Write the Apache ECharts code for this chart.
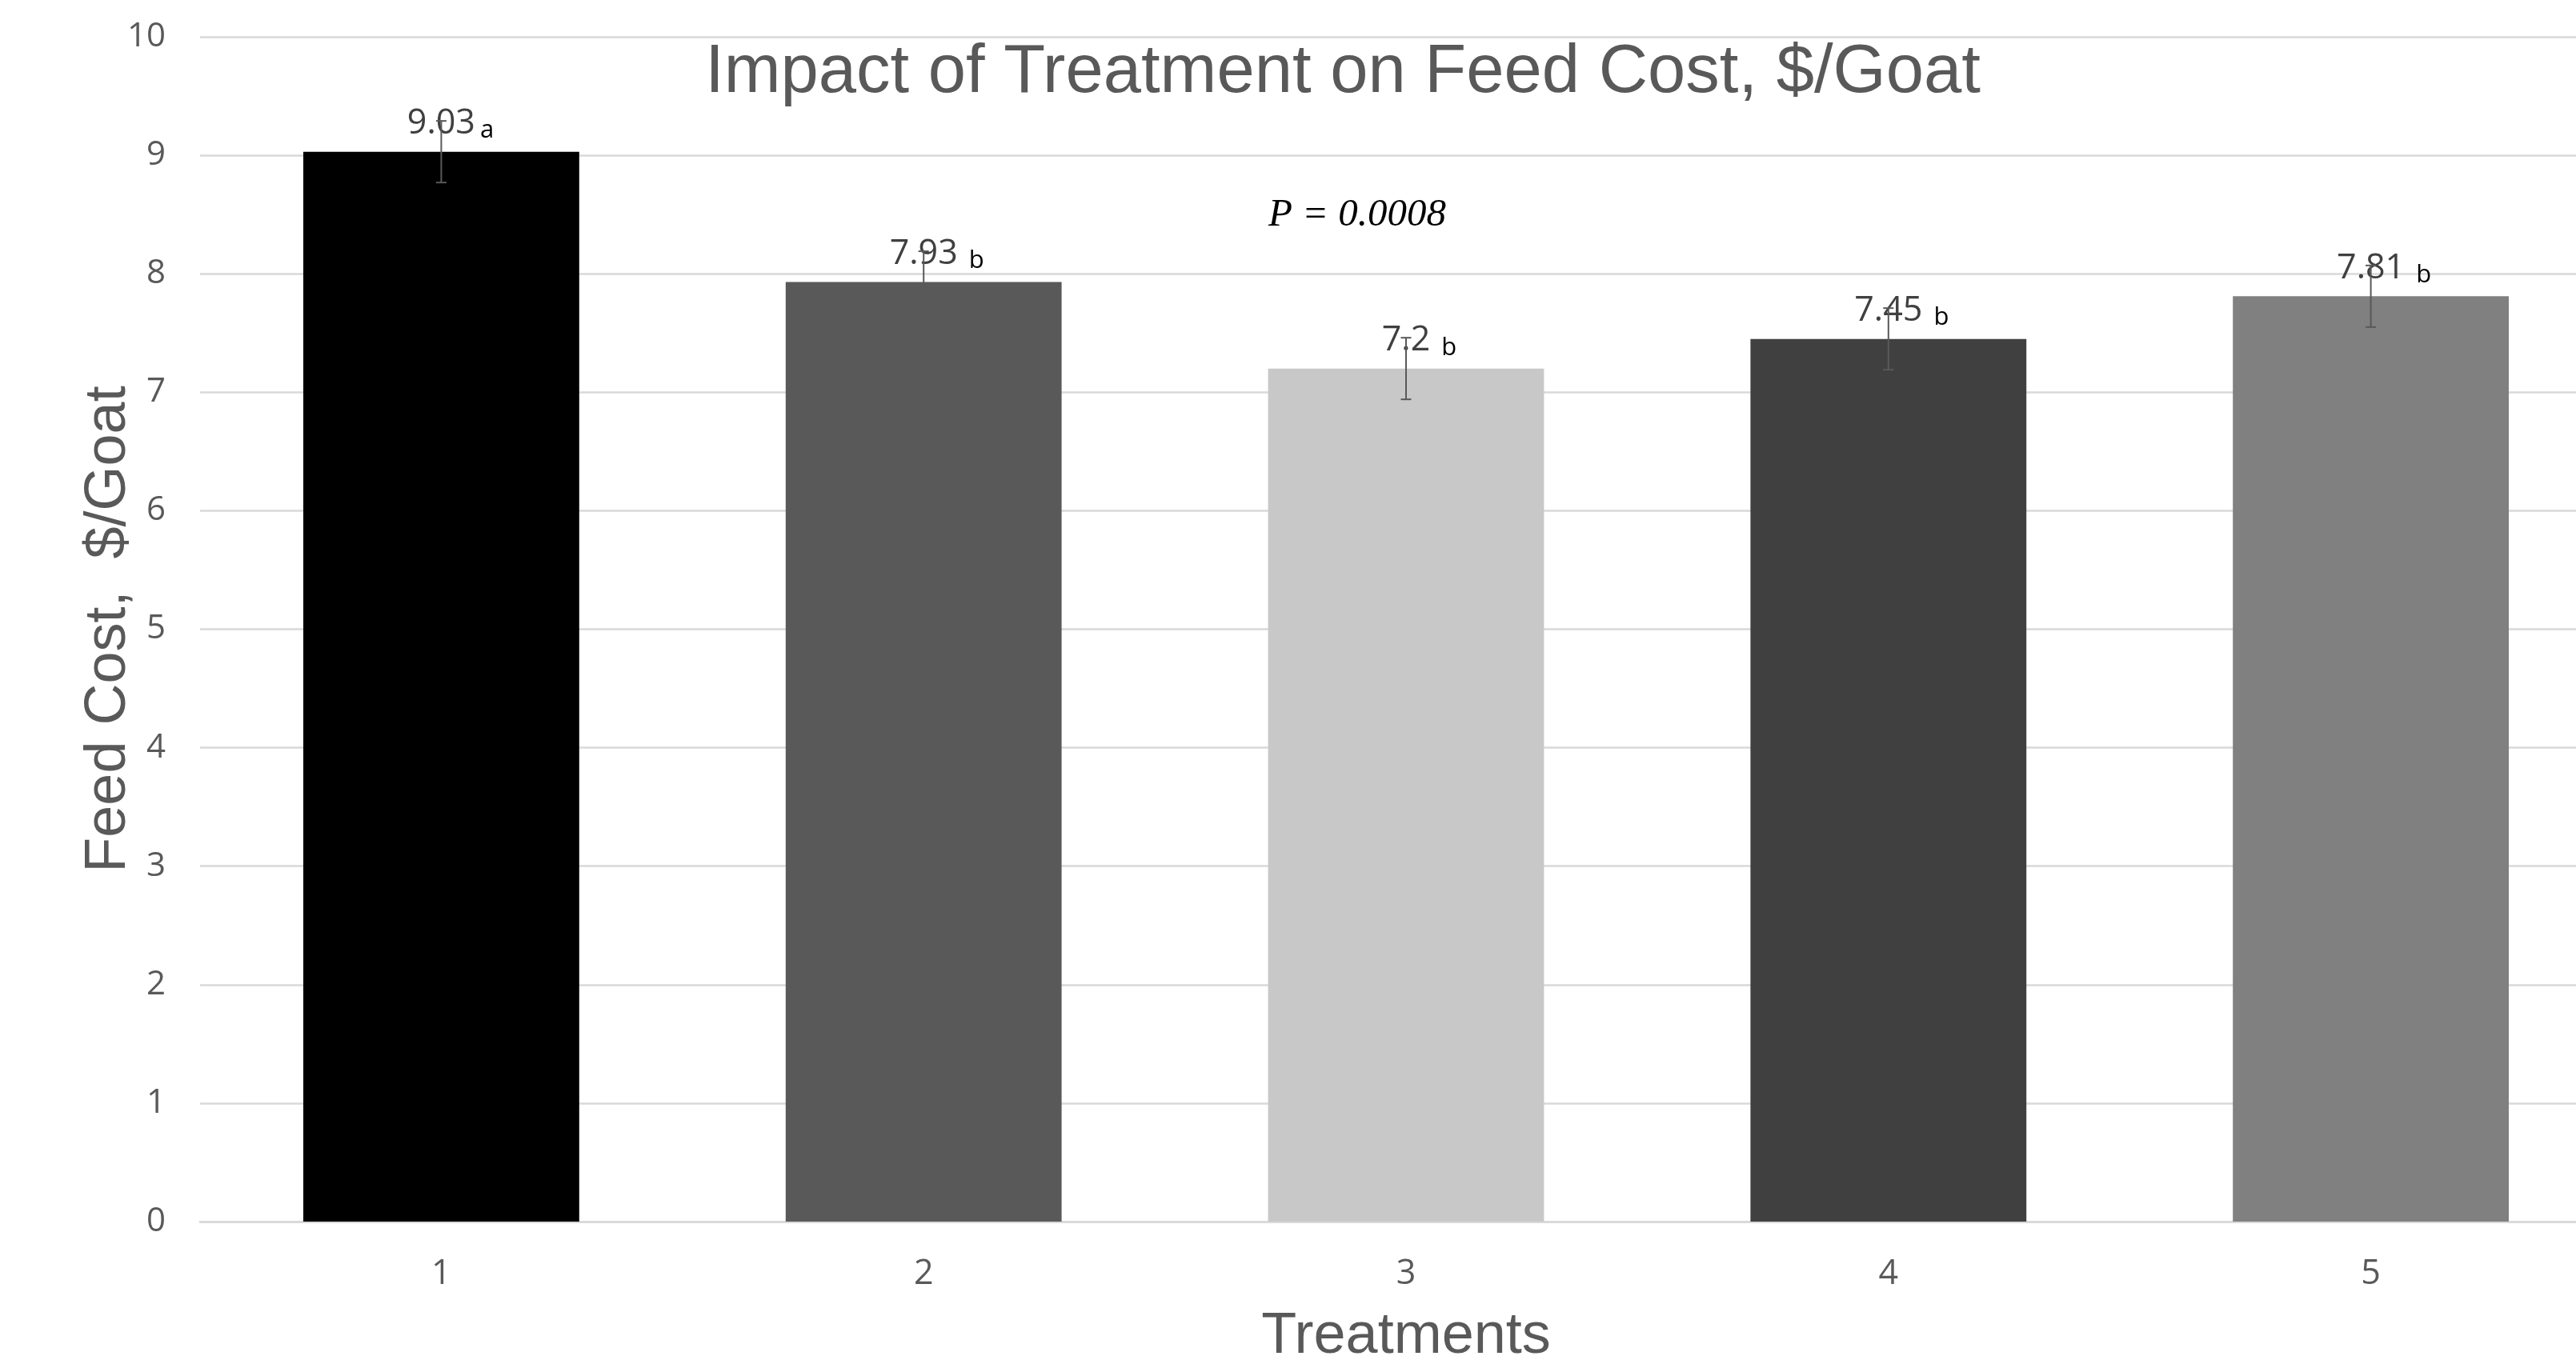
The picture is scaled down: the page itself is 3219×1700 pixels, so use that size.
<!DOCTYPE html>
<html>
<head>
<meta charset="utf-8">
<script src="https://cdn.jsdelivr.net/npm/echarts@6/dist/echarts.min.js"></script>
<style>
html,body{margin:0;padding:0;background:#fff;}
#chart{width:3219px;height:1700px;}
</style>
</head>
<body>
<div id="chart"></div>
<script>
// ---- data ----
const categories = ['1', '2', '3', '4', '5'];
const feedCost = [9.03, 7.93, 7.2, 7.45, 7.81];
const stdErr = [0.26, 0.26, 0.26, 0.26, 0.26];
const sigLetters = ['a', ' b', ' b', ' b', ' b'];
const yTicks = { min: 0, max: 10, interval: 1 };
const titleText = 'Impact of Treatment on Feed Cost, $/Goat';
const pValueText = 'P = 0.0008';
const xName = 'Treatments';
const yName = 'Feed Cost,  $/Goat';

// ---- styles ----
const barColors = ['#000000', '#595959', '#c8c8c8', '#404040', '#808080'];
const axisTextColor = '#595959';
const labelFont = '"Open Sans", "Liberation Sans", sans-serif';
const titleFont = '"Liberation Sans", Arial, sans-serif';
const valueFontSize = 43;
const letterFontSize = 31;

const measureCtx = document.createElement('canvas').getContext('2d');
function textWidth(str, size, family) {
  measureCtx.font = size + 'px ' + family;
  return measureCtx.measureText(str).width;
}

const chart = echarts.init(document.getElementById('chart'), null, { renderer: 'canvas' });

const option = {
  animation: false,
  backgroundColor: '#ffffff',
  grid: { left: 250, right: -45, top: 46, bottom: 173, containLabel: false, outerBoundsMode: 'none' },
  graphic: [
    {
      type: 'text', x: 1678, y: 92, silent: true,
      style: { text: titleText, fontSize: 85, fontFamily: titleFont, fill: '#595959', align: 'center', verticalAlign: 'middle' }
    },
    {
      type: 'text', x: 1696, y: 269, silent: true,
      style: { text: pValueText, fontSize: 49, fontStyle: 'italic', fontFamily: '"Liberation Serif", "Times New Roman", serif', fill: '#000000', align: 'center', verticalAlign: 'middle' }
    }
  ],
  xAxis: {
    type: 'category',
    data: categories,
    axisTick: { show: false },
    axisLine: { show: true, lineStyle: { color: '#d9d9d9', width: 3 } },
    axisLabel: { fontSize: 43, color: axisTextColor, fontFamily: labelFont, margin: 44 },
    name: xName,
    nameLocation: 'middle',
    nameGap: 108,
    nameMoveOverlap: false,
    nameTextStyle: { fontSize: 72, color: axisTextColor, fontFamily: titleFont }
  },
  yAxis: {
    type: 'value',
    min: yTicks.min, max: yTicks.max, interval: yTicks.interval,
    axisLine: { show: false },
    axisTick: { show: false },
    splitLine: { lineStyle: { color: '#d9d9d9', width: 2.5 } },
    axisLabel: { fontSize: 42, color: axisTextColor, fontFamily: labelFont, margin: 43 },
    name: yName,
    nameLocation: 'middle',
    nameRotate: 90,
    nameGap: 78,
    nameMoveOverlap: false,
    nameTextStyle: { fontSize: 72, color: axisTextColor, fontFamily: titleFont }
  },
  series: [
    {
      type: 'bar',
      barCategoryGap: '42.8%',
      data: feedCost.map((v, i) => ({ value: v, itemStyle: { color: barColors[i] } })),
      label: {
        show: true, position: 'top', distance: 13,
        fontSize: valueFontSize, fontFamily: labelFont, color: '#404040',
        formatter: p => String(p.value)
      },
      z: 2
    },
    {
      type: 'custom',
      z: 3,
      data: feedCost.map((v, i) => [i, v, stdErr[i]]),
      renderItem: function (params, api) {
        const idx = api.value(0);
        const v = api.value(1);
        const e = api.value(2);
        const top = api.coord([idx, v + e]);
        const bot = api.coord([idx, v - e]);
        const barTop = api.coord([idx, v]);
        const cap = 6.5;
        const digits = String(feedCost[params.dataIndex]);
        const w = textWidth(digits, valueFontSize, labelFont);
        const lineStyle = { stroke: '#595959', lineWidth: 2 };
        return {
          type: 'group',
          children: [
            { type: 'line', shape: { x1: top[0], y1: top[1], x2: bot[0], y2: bot[1] }, style: lineStyle },
            { type: 'line', shape: { x1: top[0] - cap, y1: top[1], x2: top[0] + cap, y2: top[1] }, style: lineStyle },
            { type: 'line', shape: { x1: bot[0] - cap, y1: bot[1], x2: bot[0] + cap, y2: bot[1] }, style: lineStyle },
            {
              type: 'text',
              style: {
                text: sigLetters[params.dataIndex],
                x: barTop[0] + w / 2 + 6,
                y: barTop[1] - 26,
                fontSize: letterFontSize, fontFamily: labelFont, fill: '#000000',
                align: 'left', verticalAlign: 'middle'
              }
            }
          ]
        };
      }
    }
  ]
};

chart.setOption(option);
</script>
</body>
</html>
